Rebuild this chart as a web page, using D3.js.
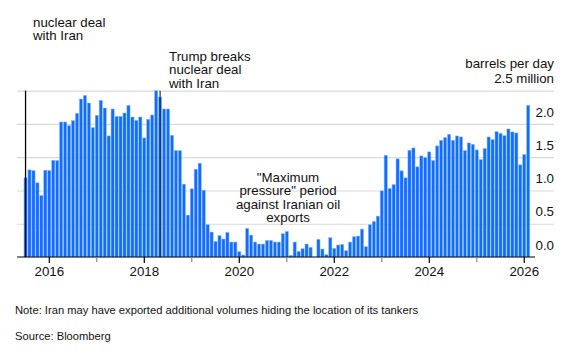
<!DOCTYPE html>
<html><head><meta charset="utf-8">
<script src="https://cdn.jsdelivr.net/npm/d3@7"></script>
<style>
html,body{margin:0;padding:0;background:#fff;}
svg{display:block;font-family:"Liberation Sans",Arial,sans-serif;}
</style></head><body>
<svg id="chart" width="584" height="356"></svg>
<script>
// Iran crude exports, million barrels per day, monthly (Jul 2015 - Feb 2026)
const v2015 = [1.19,1.31,1.30,1.115,0.925,1.305];
const v2016 = [1.30,1.455,1.45,2.03,2.03,1.975,2.05,2.16,2.375,2.43,2.315,1.945];
const v2017 = [2.13,2.355,2.24,1.82,2.225,2.115,2.115,2.165,2.28,2.105,2.055,2.105];
const v2018 = [1.79,2.07,2.135,2.5,2.405,2.225,2.225,1.83,1.6,1.6,1.095,0.63];
const v2019 = [1.025,1.32,1.41,1.005,0.485,0.375,0.235,0.32,0.27,0.37,0.225,0.225];
const v2020 = [0.08,0.03,0.43,0.33,0.225,0.195,0.195,0.25,0.25,0.225,0.225,0.35];
const v2021 = [0.385,0.025,0.225,0.085,0.125,0.195,0.145,0,0.265,0.12,0.035,0.29];
const v2022 = [0.13,0.18,0.19,0.095,0.225,0.305,0.315,0.42,0.155,0.485,0.535,0.615];
const v2023 = [0.995,1.53,1.03,1.09,1.475,1.295,1.19,1.605,1.64,1.355,1.52,1.495];
const v2024 = [1.58,1.45,1.67,1.755,1.795,1.845,1.755,1.82,1.805,1.6,1.715,1.695];
const v2025 = [1.61,1.465,1.63,1.805,1.765,1.885,1.86,1.825,1.925,1.88,1.865,1.385];
const v2026 = [1.54,2.28];

const yearBlocks = [
  [2015, 7, v2015], [2016, 1, v2016], [2017, 1, v2017], [2018, 1, v2018],
  [2019, 1, v2019], [2020, 1, v2020], [2021, 1, v2021], [2022, 1, v2022],
  [2023, 1, v2023], [2024, 1, v2024], [2025, 1, v2025], [2026, 1, v2026]
];

const gridValues = [0.5, 1.0, 1.5, 2.0, 2.5];
const yTickValues = [0.0, 0.5, 1.0, 1.5, 2.0, 2.5];
const yTickLabels = ["0.0", "0.5", "1.0", "1.5", "2.0", "2.5 million"];
const unitLabel = "barrels per day";
const yearLabels = ["2016", "2018", "2020", "2022", "2024", "2026"];

const annotations = [
  { month: "2015-07", lines: ["nuclear deal", "with Iran"] },
  { month: "2018-05", lines: ["Trump breaks", "nuclear deal", "with Iran"] }
];
const periodNote = ["\"Maximum", "pressure\" period", "against Iranian oil", "exports"];
const footNote = "Note: Iran may have exported additional volumes hiding the location of its tankers";
const source = "Source: Bloomberg";

// Build monthly data
const data = [];
yearBlocks.forEach(([yr, m0, vals]) => {
  vals.forEach((v, i) => {
    const m = m0 + i;
    data.push({ key: yr + "-" + String(m).padStart(2, "0"), year: yr, month: m, value: v });
  });
});

const svg = d3.select("#chart");
const textColor = "#111";
const fs = 13.3;

const x = d3.scaleBand().domain(data.map(d => d.key)).range([23.57, 530.2])
  .paddingInner(0.2).paddingOuter(0.1);
const y = d3.scaleLinear().domain([0, 2.5]).range([257, 90.7]);

const gridLeft = 17, gridRight = 554;

// gridlines
svg.append("g")
  .attr("transform", `translate(${gridRight},0)`)
  .call(d3.axisLeft(y).tickValues(gridValues).tickSize(gridRight - gridLeft).tickFormat(""))
  .call(g => g.select(".domain").remove())
  .call(g => g.selectAll(".tick line").attr("stroke", "#d9d9d9").attr("stroke-width", 1.2));

// bars
svg.append("g").selectAll("rect").data(data).join("rect")
  .attr("x", d => x(d.key))
  .attr("width", x.bandwidth())
  .attr("y", d => y(d.value))
  .attr("height", d => y(0) - y(d.value))
  .attr("fill", "#0f6dff")
  .attr("stroke", "#8fbaff")
  .attr("stroke-width", 0.5);

// annotation lines
annotations.forEach((a, i) => {
  const cx = x(a.month) + x.bandwidth() / 2;
  svg.append("line")
    .attr("x1", cx).attr("x2", cx)
    .attr("y1", y(2.5)).attr("y2", y(0))
    .attr("stroke", i === 0 ? "#000" : "#222")
    .attr("stroke-opacity", i === 0 ? 1 : 0.85)
    .attr("stroke-width", 1.3);
});

// x axis baseline
svg.append("line")
  .attr("x1", gridLeft).attr("x2", 535)
  .attr("y1", y(0)).attr("y2", y(0))
  .attr("stroke", "#000").attr("stroke-width", 1.2);

// x axis ticks
const janKeys = data.filter(d => d.month === 1).map(d => d.key);
const xAxis = svg.append("g")
  .attr("transform", `translate(0,${y(0)})`)
  .call(d3.axisBottom(x).tickValues(janKeys).tickSize(6)
    .tickFormat(k => yearLabels.includes(k.slice(0, 4)) ? k.slice(0, 4) : ""));
xAxis.select(".domain").remove();
xAxis.selectAll(".tick line")
  .attr("stroke", k => yearLabels.includes(k.slice(0, 4)) ? "#000" : "#888")
  .attr("stroke-width", 1.2)
  .attr("y2", k => yearLabels.includes(k.slice(0, 4)) ? 6 : 5);
xAxis.selectAll(".tick text")
  .attr("y", 10).attr("dy", "0.71em")
  .attr("font-size", fs).attr("font-family", "Liberation Sans, Arial, sans-serif")
  .attr("fill", textColor);

// y labels
svg.append("g").selectAll("text").data(yTickValues).join("text")
  .attr("x", gridRight)
  .attr("y", d => y(d) - 7.3)
  .attr("text-anchor", "end")
  .attr("font-size", fs)
  .attr("fill", textColor)
  .text((d, i) => yTickLabels[i]);
svg.append("text")
  .attr("x", gridRight).attr("y", 67.8)
  .attr("text-anchor", "end").attr("font-size", fs).attr("fill", textColor)
  .text(unitLabel);

// annotation texts (one text element per line)
const annoPos = [{ x: 33, y: 26.5 }, { x: 169, y: 60.8 }];
annotations.forEach((a, i) => {
  svg.append("g").selectAll("text").data(a.lines).join("text")
    .attr("x", annoPos[i].x)
    .attr("y", (ln, j) => annoPos[i].y + j * 13.6)
    .attr("font-size", fs).attr("fill", textColor)
    .text(ln => ln);
});

svg.append("g").selectAll("text").data(periodNote).join("text")
  .attr("x", 288)
  .attr("y", (ln, j) => 181.5 + j * 13.5)
  .attr("text-anchor", "middle")
  .attr("font-size", fs).attr("fill", textColor)
  .text(ln => ln);

// footnotes
svg.append("text").attr("x", 15).attr("y", 313.5).attr("font-size", 11.2).attr("fill", textColor).text(footNote);
svg.append("text").attr("x", 15).attr("y", 339.5).attr("font-size", 11.2).attr("fill", textColor).text(source);
</script>
</body></html>
